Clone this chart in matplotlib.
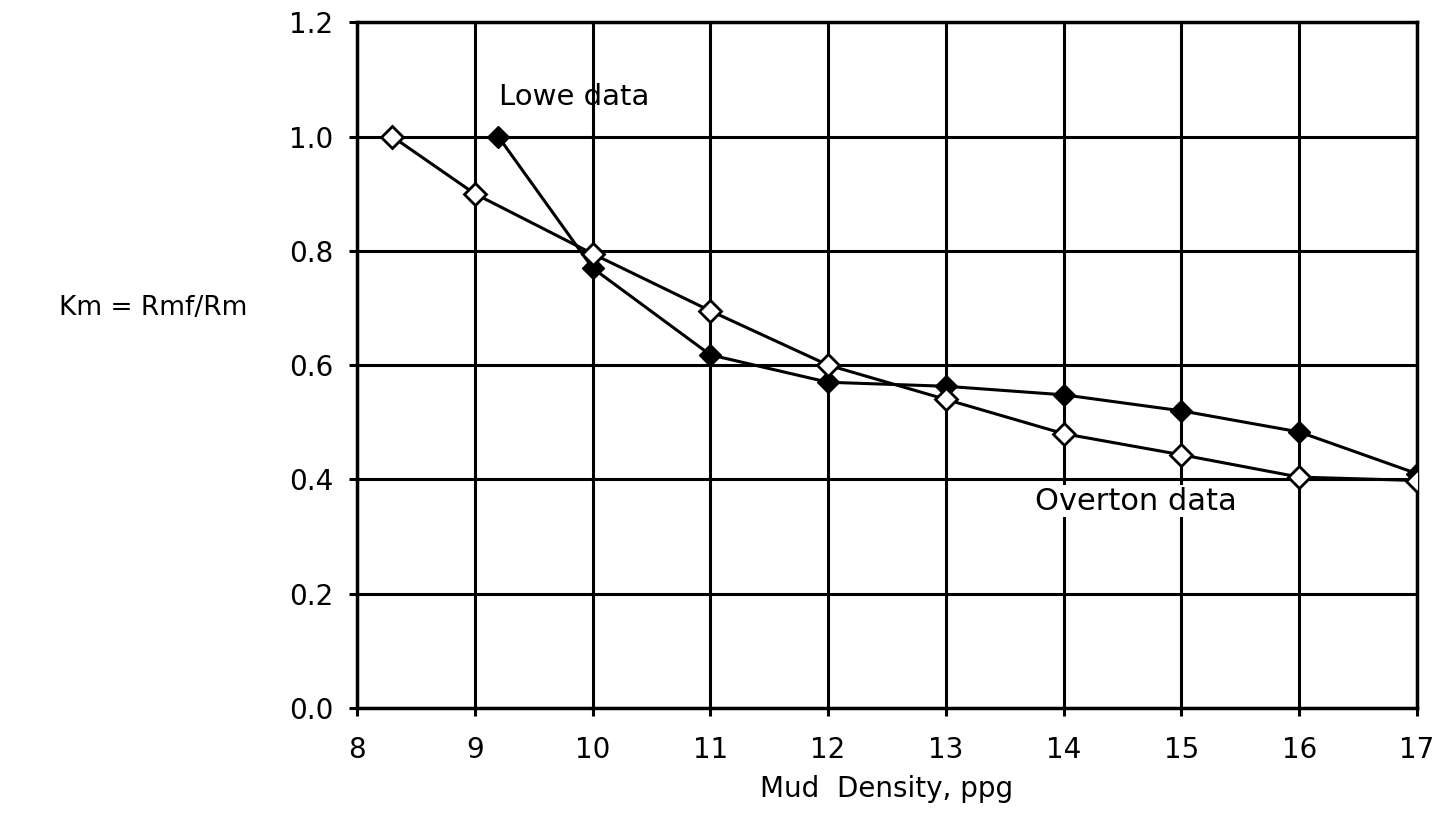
import matplotlib
matplotlib.use("Agg")
import matplotlib.pyplot as plt

# Data
overton_x = [8.3, 9, 10, 11, 12, 13, 14, 15, 16, 17]
overton_y = [1.0, 0.90, 0.795, 0.695, 0.60, 0.54, 0.48, 0.443, 0.404, 0.398]
lowe_x = [9.2, 10, 11, 12, 13, 14, 15, 16, 17]
lowe_y = [1.0, 0.77, 0.618, 0.570, 0.563, 0.548, 0.520, 0.483, 0.41]
x_ticks = [8, 9, 10, 11, 12, 13, 14, 15, 16, 17]
y_ticks = [0.0, 0.2, 0.4, 0.6, 0.8, 1.0, 1.2]

plt.rcParams['font.family'] = ['DejaVu Sans']

fig = plt.figure(figsize=(14.51, 8.27), dpi=100)
ax = fig.add_axes([0.246, 0.144, 0.9766 - 0.246, 0.973 - 0.144])

ax.plot(lowe_x, lowe_y, color='black', lw=2.2, marker='D', ms=11,
        mfc='black', mec='black', zorder=3)
ax.plot(overton_x, overton_y, color='black', lw=2.2, marker='D', ms=11,
        mfc='white', mec='black', mew=2, zorder=4)

ax.set_xlim(8, 17)
ax.set_ylim(0, 1.2)
ax.set_xticks(x_ticks)
ax.set_yticks(y_ticks)
ax.set_xticklabels([str(v) for v in x_ticks])
ax.set_yticklabels([f"{v:.1f}" for v in y_ticks])
ax.grid(True, color='black', lw=2.2)
ax.set_axisbelow(True)
for s in ax.spines.values():
    s.set_linewidth(2.5)
ax.tick_params(axis='both', direction='out', length=6, width=2.2,
               labelsize=20)
ax.tick_params(axis='x', pad=14)
ax.tick_params(axis='y', pad=11)

ax.set_xlabel("Mud  Density, ppg", fontsize=20, labelpad=8)
fig.text(0.1055, 0.628, "Km = Rmf/Rm", fontsize=19, ha='center', va='center')

ax.text(9.21, 1.069, "Lowe data", fontsize=21, ha='left', va='center')
ax.text(13.76, 0.362, "Overton data", fontsize=22, ha='left', va='center',
        bbox=dict(facecolor='white', edgecolor='none', pad=1))

fig.savefig("out.png", dpi=100)
